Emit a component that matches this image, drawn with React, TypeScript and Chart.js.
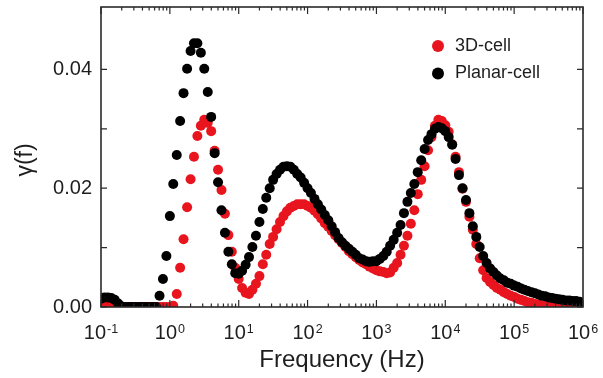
import React, { useEffect, useRef } from 'react';
import { Chart, registerables } from 'chart.js';

Chart.register(...registerables);

// Measurement frequencies (Hz), 20 points per decade
const frequencies = [
  0.1, 0.112, 0.126, 0.141, 0.158, 0.178, 0.2, 0.224, 0.251, 0.282, 0.316, 0.355, 0.398, 0.447, 0.501, 0.562, 0.631, 0.708, 0.794, 0.891,
  1, 1.12, 1.26, 1.41, 1.58, 1.78, 2, 2.24, 2.51, 2.82, 3.16, 3.55, 3.98, 4.47, 5.01, 5.62, 6.31, 7.08, 7.94, 8.91,
  10, 11.2, 12.6, 14.1, 15.8, 17.8, 20, 22.4, 25.1, 28.2, 31.6, 35.5, 39.8, 44.7, 50.1, 56.2, 63.1, 70.8, 79.4, 89.1,
  100, 112, 126, 141, 158, 178, 200, 224, 251, 282, 316, 355, 398, 447, 501, 562, 631, 708, 794, 891,
  1000, 1120, 1260, 1410, 1580, 1780, 2000, 2240, 2510, 2820, 3160, 3550, 3980, 4470, 5010, 5620, 6310, 7080, 7940, 8910,
  10000, 11200, 12600, 14100, 15800, 17800, 20000, 22400, 25100, 28200, 31600, 35500, 39800, 44700, 50100, 56200, 63100, 70800, 79400, 89100,
  100000, 112000, 126000, 141000, 158000, 178000, 200000, 224000, 251000, 282000, 316000, 355000, 398000, 447000, 501000, 562000, 631000, 708000, 794000, 891000,
];

// γ(f) for the 3D-cell
const cell3D = [
  0.0007, 0.0006, 0.0004, 0.0002, 0, 0, 0, 0, 0, 0, 0, 0, 0, 0, 0, 0, 0, 0, 0, 0,
  0, 0.0002, 0.0022, 0.0066, 0.0114, 0.0168, 0.0215, 0.0253, 0.0288, 0.0305, 0.0315, 0.0310, 0.0296, 0.0263, 0.0231, 0.0197, 0.0157, 0.0121, 0.0093, 0.0066,
  0.0047, 0.0032, 0.0024, 0.0022, 0.0029, 0.0039, 0.0052, 0.0072, 0.0088, 0.0106, 0.0118, 0.0131, 0.0143, 0.0153, 0.0161, 0.0167, 0.0170, 0.0173, 0.0173, 0.0173,
  0.0170, 0.0167, 0.0162, 0.0156, 0.0149, 0.0141, 0.0135, 0.0128, 0.0121, 0.0114, 0.0108, 0.0101, 0.0094, 0.0089, 0.0084, 0.0079, 0.0075, 0.0072, 0.0068, 0.0065,
  0.0062, 0.0060, 0.0059, 0.0057, 0.0058, 0.0066, 0.0074, 0.0088, 0.0103, 0.0120, 0.0140, 0.0163, 0.0190, 0.0214, 0.0237, 0.0264, 0.0286, 0.0305, 0.0315, 0.0313,
  0.0306, 0.0295, 0.0274, 0.0253, 0.0227, 0.0199, 0.0177, 0.0152, 0.0130, 0.0106, 0.0082, 0.0062, 0.0049, 0.0042, 0.0037, 0.0032, 0.0029, 0.0025, 0.0022, 0.0019,
  0.0017, 0.0014, 0.0012, 0.0010, 0.0008, 0.0007, 0.0005, 0.0004, 0.0003, 0.0003, 0.0002, 0.0001, 0, 0, 0, 0, 0, 0, 0, 0,
];

// γ(f) for the Planar-cell
const planarCell = [
  0.0014, 0.0016, 0.0016, 0.0015, 0.0012, 0.0006, 0.0001, 0, 0, 0, 0, 0, 0, 0, 0, 0, 0, 0.0019, 0.0047, 0.0086,
  0.0153, 0.0207, 0.0256, 0.0313, 0.0360, 0.0401, 0.0431, 0.0444, 0.0444, 0.0428, 0.0401, 0.0362, 0.0320, 0.0259, 0.0210, 0.0163, 0.0125, 0.0093, 0.0072, 0.0057,
  0.0056, 0.0061, 0.0071, 0.0084, 0.0101, 0.0120, 0.0143, 0.0165, 0.0184, 0.0200, 0.0214, 0.0224, 0.0231, 0.0236, 0.0237, 0.0236, 0.0231, 0.0224, 0.0218, 0.0209,
  0.0200, 0.0192, 0.0182, 0.0173, 0.0164, 0.0155, 0.0146, 0.0136, 0.0126, 0.0116, 0.0109, 0.0103, 0.0098, 0.0093, 0.0088, 0.0082, 0.0080, 0.0077, 0.0076, 0.0077,
  0.0077, 0.0081, 0.0086, 0.0093, 0.0103, 0.0113, 0.0125, 0.0138, 0.0158, 0.0177, 0.0192, 0.0207, 0.0227, 0.0247, 0.0266, 0.0281, 0.0291, 0.0300, 0.0303, 0.0301,
  0.0296, 0.0286, 0.0273, 0.0249, 0.0222, 0.0200, 0.0180, 0.0158, 0.0136, 0.0118, 0.0101, 0.0086, 0.0074, 0.0065, 0.0059, 0.0053, 0.0048, 0.0045, 0.0041, 0.0039,
  0.0036, 0.0034, 0.0031, 0.0029, 0.0027, 0.0025, 0.0023, 0.0021, 0.0019, 0.0018, 0.0016, 0.0015, 0.0014, 0.0013, 0.0012, 0.0011, 0.0011, 0.0010, 0.0010, 0.0009,
];

const seriesNames = ['3D-cell', 'Planar-cell'];
const seriesColors = ['#e8141e', '#000000'];

const yTickValues = [0, 0.02, 0.04];
const yTickLabels = ['0.00', '0.02', '0.04'];
const yMinorTickValues = [0.01, 0.03];
const xDecadeValues = [0.1, 1, 10, 100, 1000, 10000, 100000, 1000000];
const xDecadeExponents = ['-1', '0', '1', '2', '3', '4', '5', '6'];
const xMinorMultipliers = [2, 3, 4, 5, 6, 7, 8, 9];

const xTitle = 'Frequency (Hz)';
const yTitle = 'γ(f)';

const FONT = '"Liberation Sans", Arial, Helvetica, sans-serif';

const framePlugin = {
  id: 'frameAndLabels',
  afterDatasetsDraw(chart: any) {
    const { ctx, chartArea: a, scales } = chart;
    const x = scales.x;
    const y = scales.y;
    ctx.save();

    // ticks (inward)
    ctx.strokeStyle = '#2a2a2a';
    ctx.lineWidth = 1.2;
    ctx.beginPath();
    xDecadeValues.forEach((d, i) => {
      const px = x.getPixelForValue(d);
      ctx.moveTo(px, a.bottom); ctx.lineTo(px, a.bottom - 7);
      ctx.moveTo(px, a.top); ctx.lineTo(px, a.top + 7);
      if (i < xDecadeValues.length - 1) {
        xMinorMultipliers.forEach((m) => {
          const pm = x.getPixelForValue(d * m);
          ctx.moveTo(pm, a.bottom); ctx.lineTo(pm, a.bottom - 3.5);
          ctx.moveTo(pm, a.top); ctx.lineTo(pm, a.top + 3.5);
        });
      }
    });
    [...yTickValues, ...yMinorTickValues].forEach((v) => {
      const py = y.getPixelForValue(v);
      ctx.moveTo(a.left, py); ctx.lineTo(a.left + 6, py);
      ctx.moveTo(a.right, py); ctx.lineTo(a.right - 6, py);
    });
    ctx.stroke();

    // frame
    ctx.lineWidth = 1.6;
    ctx.strokeRect(a.left, a.top, a.right - a.left, a.bottom - a.top);

    ctx.fillStyle = '#1e1e1e';
    // y tick labels
    ctx.font = `20px ${FONT}`;
    ctx.textAlign = 'right';
    ctx.textBaseline = 'middle';
    yTickValues.forEach((v, i) => {
      const py = y.getPixelForValue(v);
      ctx.fillText(yTickLabels[i], a.left - 9, py);
    });

    // x tick labels with superscript exponents
    ctx.textAlign = 'left';
    ctx.textBaseline = 'alphabetic';
    xDecadeValues.forEach((d, i) => {
      const px = x.getPixelForValue(d);
      ctx.font = `20px ${FONT}`;
      const wb = ctx.measureText('10').width;
      ctx.font = `12.5px ${FONT}`;
      const ws = ctx.measureText(xDecadeExponents[i]).width;
      const start = px - (wb + ws + 1) / 2;
      ctx.font = `20px ${FONT}`;
      ctx.fillText('10', start, a.bottom + 31.5);
      ctx.font = `12.5px ${FONT}`;
      ctx.fillText(xDecadeExponents[i], start + wb + 1, a.bottom + 25.5);
    });

    // axis titles
    ctx.font = `24px ${FONT}`;
    ctx.textAlign = 'center';
    ctx.fillText(xTitle, (a.left + a.right) / 2, a.bottom + 60);
    ctx.save();
    ctx.translate(26, (a.top + a.bottom) / 2 + 3);
    ctx.rotate(-Math.PI / 2);
    ctx.textBaseline = 'middle';
    ctx.font = `23px ${FONT}`;
    ctx.fillText(yTitle, 0, 0);
    ctx.restore();

    // legend
    const lx = a.right - 145;
    const ly = [a.top + 39, a.top + 66.5];
    seriesNames.forEach((name, i) => {
      ctx.fillStyle = seriesColors[i];
      ctx.beginPath();
      ctx.arc(lx, ly[i], 6, 0, Math.PI * 2);
      ctx.fill();
      ctx.fillStyle = '#1e1e1e';
      ctx.font = `18px ${FONT}`;
      ctx.textAlign = 'left';
      ctx.textBaseline = 'middle';
      ctx.fillText(name, lx + 17, ly[i]);
    });

    ctx.restore();
  },
};

export default function App() {
  const canvasRef = useRef<HTMLCanvasElement | null>(null);

  useEffect(() => {
    if (!canvasRef.current) return;
    const series = [cell3D, planarCell];
    const chart = new Chart(canvasRef.current, {
      type: 'scatter',
      data: {
        datasets: series.map((vals, i) => ({
          label: seriesNames[i],
          data: frequencies.map((f, k) => ({ x: f, y: vals[k] })),
          pointRadius: 5,
          pointBorderWidth: 0,
          pointBackgroundColor: seriesColors[i],
          pointBorderColor: seriesColors[i],
          backgroundColor: seriesColors[i],
          showLine: false,
          order: i === 0 ? 2 : 1,
        })),
      },
      options: {
        animation: false,
        responsive: true,
        maintainAspectRatio: false,
        layout: { padding: { left: 101, right: 20, top: 7, bottom: 71 } },
        scales: {
          x: { type: 'logarithmic', min: 0.1, max: 1000000, display: false },
          y: { type: 'linear', min: 0, max: 0.0505, display: false },
        },
        plugins: {
          legend: { display: false },
          tooltip: { enabled: false },
        },
      },
      plugins: [framePlugin],
    });
    return () => chart.destroy();
  }, []);

  return (
    <div style={{ position: 'absolute', left: 0, top: 0, width: 603, height: 378, background: '#fff' }}>
      <canvas ref={canvasRef} />
    </div>
  );
}
